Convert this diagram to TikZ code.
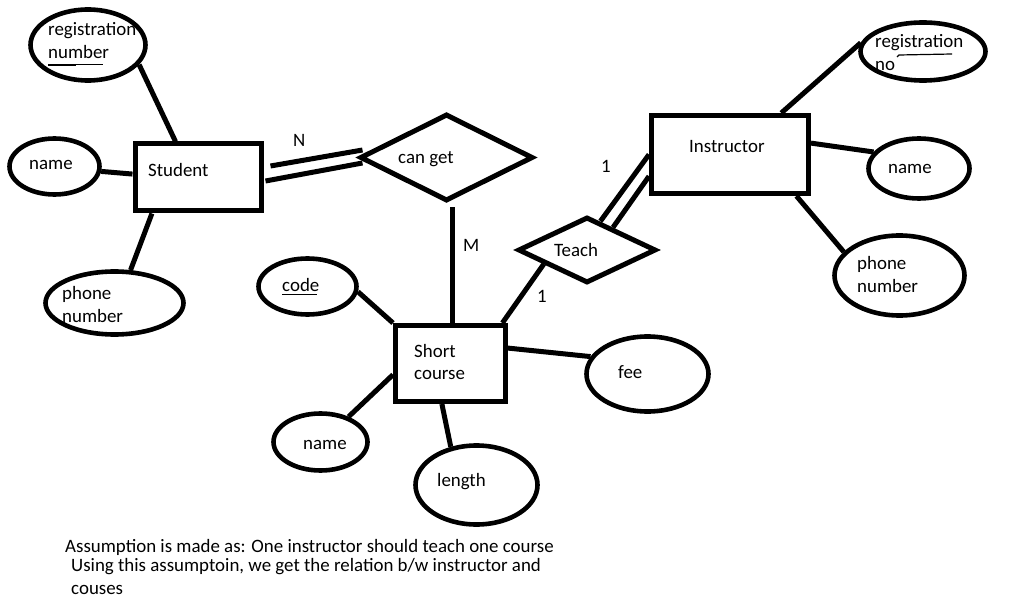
\documentclass[tikz,border=0pt]{standalone}
\usepackage{fontspec}
\setmainfont{Carlito}
\usetikzlibrary{shapes.geometric}
\begin{document}
\begin{tikzpicture}[x=1pt,y=-1pt,
  ent/.style={draw,line width=5pt,rectangle,inner sep=0pt},
  attr/.style={draw,line width=4.6pt,ellipse,inner sep=0pt},
  rel/.style={draw,line width=5pt,diamond,inner sep=0pt},
  conn/.style={line width=5pt},
  lbl/.style={anchor=base west,inner sep=0pt,font=\fontsize{18.9}{22}\selectfont},
  uline/.style={line width=1.2pt}]
\useasboundingbox (0,0) rectangle (1009,612);

% entities
\node[ent,minimum width=126pt,minimum height=67pt] (student) at (198,177.5) {};
\node[ent,minimum width=157pt,minimum height=78pt] (instr) at (730,154.5) {};
\node[ent,minimum width=110pt,minimum height=76pt] (short) at (450.5,363.5) {};

% relationships
\node[rel,minimum width=173pt,minimum height=87pt] (canget) at (446.5,157.5) {};
\node[rel,minimum width=138pt,minimum height=66pt] (teach) at (587,250) {};

% attributes
\node[attr,minimum width=115pt,minimum height=71pt] (sreg) at (88,45) {};
\node[attr,minimum width=90pt,minimum height=56pt] (sname) at (54.5,166.5) {};
\node[attr,minimum width=138pt,minimum height=63pt] (sphone) at (114.5,303) {};
\node[attr,minimum width=125pt,minimum height=58pt] (ireg) at (923,51.5) {};
\node[attr,minimum width=101pt,minimum height=60pt] (iname) at (919,168.5) {};
\node[attr,minimum width=130pt,minimum height=80pt] (iphone) at (899.5,275.5) {};
\node[attr,minimum width=98pt,minimum height=56pt] (code) at (307.5,286.5) {};
\node[attr,minimum width=94pt,minimum height=57pt] (cname) at (320.5,442) {};
\node[attr,minimum width=122pt,minimum height=79pt] (length) at (476.5,485) {};
\node[attr,minimum width=122pt,minimum height=75pt] (fee) at (647.5,374) {};

% connectors
\draw[conn] (sreg.-21.8) -- (student.122.7);
\draw[conn] (sname.-6.9) -- (student.177);
\draw[conn] (sphone.64.8) -- (student.218.7);
\draw[conn] ([xshift=7pt,yshift=11.5pt]student.east) -- ([xshift=5pt,yshift=7.5pt]canget.west);
\draw[conn] ([xshift=2pt,yshift=-3.5pt]student.east) -- ([xshift=5pt,yshift=-5.5pt]canget.west);
\draw[conn] ([xshift=5.5pt,yshift=-4pt]canget.south) -- ([xshift=1.5pt,yshift=-4.5pt]short.north);
\draw[conn] (teach.198.8) -- (short.38.9);
\draw[conn] (teach.65.1) -- (instr.west);
\draw[conn] (teach.41.5) -- (instr.195.7);
\draw[conn] (ireg.172.5) -- (instr.39.3);
\draw[conn] (iname.160.65) -- (instr.8.1);
\draw[conn] (iphone.157.4) -- (instr.-32);
\draw[conn] (code.-6.2) -- (short.north west);
\draw[conn] (cname.42.5) -- (short.191.8);
\draw[conn] (length.124.6) -- (short.258.1);
\draw[conn] (fee.163.5) -- (short.15.1);

% labels
\node[lbl] (tstudent) at (148,177) {Student};
\node[lbl] (tinstr) at (689,153) {Instructor};
\node[lbl] (tshort1) at (414,357) {Short};
\node[lbl] (tshort2) at (414,379) {course};
\node[lbl] (tcanget) at (398,164) {can get};
\node[lbl] (tteach) at (554,257) {Teach};
\node[lbl] (tN) at (293,147) {N};
\node[lbl] (tM) at (463,252) {M};
\node[lbl] (tone1) at (601,173) {1};
\node[lbl] (tone2) at (537,302) {1};

\node[lbl] (tsreg1) at (48,36) {registration};
\node[lbl] (tsreg2) at (48,59) {number};
\node[lbl] (tsname) at (29,170) {name};
\node[lbl] (tsph1) at (62,300) {phone};
\node[lbl] (tsph2) at (62,323) {number};

\node[lbl] (tireg1) at (875,48) {registration};
\node[lbl] (tireg2) at (875,71) {no};
\node[lbl] (tiname) at (888,174) {name};
\node[lbl] (tiph1) at (857,270) {phone};
\node[lbl] (tiph2) at (857,293) {number};

\node[lbl] (tcode) at (282,291) {code};
\node[lbl] (tcname) at (303,449) {name};
\node[lbl] (tlength) at (437,486) {length};
\node[lbl] (tfee) at (618,378) {fee};

\node[lbl] (note1) at (65,552) {Assumption is made as: One instructor should teach one course};
\node[lbl] (note2) at (71,571) {Using this assumptoin, we get the relation b/w instructor and};
\node[lbl] (note3) at (71,594) {couses};

% underlines
\draw[uline] (48,65) -- (76,65);
\draw[uline] (76,64.5) -- (103,64.5);
\draw[uline] (282,294.5) -- (317,294.5);
\draw[uline] (897,57) -- (899,55) -- (952,54);
\end{tikzpicture}
\end{document}
